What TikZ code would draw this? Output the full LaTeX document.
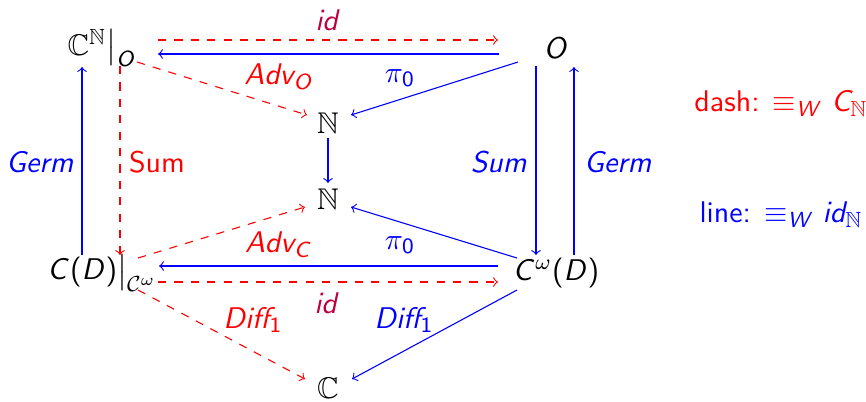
\documentclass[tikz,border=0pt,11pt]{standalone}
\usepackage{xcolor}
\usepackage{amsmath}
\usepackage{amssymb}
\usepackage{tikz}
% sans serif math letters and digits
\DeclareSymbolFont{sfletters}{OT1}{cmss}{m}{it}
\DeclareSymbolFont{sfoperators}{OT1}{cmss}{m}{n}
\DeclareMathSymbol{A}{\mathalpha}{sfletters}{`A}
\DeclareMathSymbol{C}{\mathalpha}{sfletters}{`C}
\DeclareMathSymbol{D}{\mathalpha}{sfletters}{`D}
\DeclareMathSymbol{G}{\mathalpha}{sfletters}{`G}
\DeclareMathSymbol{O}{\mathalpha}{sfletters}{`O}
\DeclareMathSymbol{S}{\mathalpha}{sfletters}{`S}
\DeclareMathSymbol{W}{\mathalpha}{sfletters}{`W}
\DeclareMathSymbol{d}{\mathalpha}{sfletters}{`d}
\DeclareMathSymbol{e}{\mathalpha}{sfletters}{`e}
\DeclareMathSymbol{f}{\mathalpha}{sfletters}{`f}
\DeclareMathSymbol{i}{\mathalpha}{sfletters}{`i}
\DeclareMathSymbol{m}{\mathalpha}{sfletters}{`m}
\DeclareMathSymbol{r}{\mathalpha}{sfletters}{`r}
\DeclareMathSymbol{u}{\mathalpha}{sfletters}{`u}
\DeclareMathSymbol{v}{\mathalpha}{sfletters}{`v}
\DeclareMathSymbol{0}{\mathalpha}{sfoperators}{`0}
\DeclareMathSymbol{1}{\mathalpha}{sfoperators}{`1}
\DeclareMathSymbol{(}{\mathopen}{sfoperators}{`(}
\DeclareMathSymbol{)}{\mathclose}{sfoperators}{`)}

\begin{document}
\begin{tikzpicture}[x=0.366pt,y=-0.366pt,
    obj/.style={inner sep=0pt},
    lbl/.style={inner sep=0pt,font=\sffamily},
    dsh/.style={red,dashed,->},
    sol/.style={blue,->}]
    \useasboundingbox (0,0) rectangle (866,401);
    % Objects
    \node[obj] (cno)  at (102,48)  {$\mathbb{C}^{\mathbb{N}}\big|_{O}$};
    \node[obj] (obj)  at (556,48)  {$O$};
    \node[obj] (nat1) at (328,123) {$\mathbb{N}$};
    \node[obj] (nat2) at (328,199) {$\mathbb{N}$};
    \node[obj] (cd)   at (102,273) {$C(D)\big|_{\mathcal{C}^{\omega}}$};
    \node[obj] (cwd)  at (556,273) {$C^{\omega}(D)$};
    \node[obj] (cplx) at (328,388) {$\mathbb{C}$};
    % Top row
    \draw[dsh] ([shift={(56,-8)}]cno.center) -- ([shift={(-58,-8)}]obj.center);
    \draw[sol] ([shift={(-57,6)}]obj.center) -- ([shift={(56,6)}]cno.center);
    \draw[dsh] ([shift={(35,14)}]cno.center) -- ([shift={(-21,-8)}]nat1.center);
    \draw[sol] ([shift={(-38,14)}]obj.center) -- ([shift={(23,-8)}]nat1.center);
    \draw[sol] ([shift={(0,15)}]nat1.center) -- ([shift={(0,-16)}]nat2.center);
    % Verticals
    \draw[dsh] ([shift={(18,18)}]cno.center) -- ([shift={(18,-18)}]cd.center);
    \draw[sol] ([shift={(-20,-18)}]cd.center) -- ([shift={(-20,19)}]cno.center);
    \draw[sol] ([shift={(-20,18)}]obj.center) -- ([shift={(-20,-18)}]cwd.center);
    \draw[sol] ([shift={(18,-18)}]cwd.center) -- ([shift={(18,19)}]obj.center);
    % Bottom row
    \draw[dsh] ([shift={(36,-15)}]cd.center) -- ([shift={(-23,8)}]nat2.center);
    \draw[sol] ([shift={(-39,-15)}]cwd.center) -- ([shift={(23,8)}]nat2.center);
    \draw[sol] ([shift={(-58,-7)}]cwd.center) -- ([shift={(57,-7)}]cd.center);
    \draw[dsh] ([shift={(56,9)}]cd.center) -- ([shift={(-58,9)}]cwd.center);
    \draw[dsh] ([shift={(36,17)}]cd.center) -- ([shift={(-23,-9)}]cplx.center);
    \draw[sol] ([shift={(-39,17)}]cwd.center) -- ([shift={(24,-9)}]cplx.center);
    % Labels
    \node[lbl,purple] (idtop) at (328,20)  {$id$};
    \node[lbl,red]    (advo)  at (279,77)  {$Adv_O$};
    \node[lbl,blue]   (pitop) at (400,78)  {$\pi_0$};
    \node[lbl,blue]   (germl) at (40,162)  {$Germ$};
    \node[lbl,red]    (suml)  at (157,162) {Sum};
    \node[lbl,blue]   (sumr)  at (499,162) {$Sum$};
    \node[lbl,blue]   (germr) at (618,162) {$Germ$};
    \node[lbl,red]    (advc)  at (279,245) {$Adv_C$};
    \node[lbl,blue]   (pibot) at (400,245) {$\pi_0$};
    \node[lbl,purple] (idbot) at (327,303) {$id$};
    \node[lbl,red]    (diffl) at (253,320) {$Diff_1$};
    \node[lbl,blue]   (diffr) at (404,320) {$Diff_1$};
    % Legend
    \node[lbl,red]  (dash) at (781,104) {dash: $\equiv_W C_{\mathbb{N}}$};
    \node[lbl,blue] (line) at (781,215) {line: $\equiv_W id_{\mathbb{N}}$};
\end{tikzpicture}
\end{document}
